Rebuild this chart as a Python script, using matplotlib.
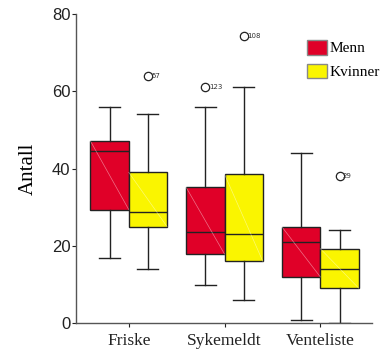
import matplotlib
matplotlib.use("Agg")
import matplotlib.pyplot as plt
from matplotlib.patches import Patch

categories = ["Friske", "Sykemeldt", "Venteliste"]
series = ["Menn", "Kvinner"]
colors = ["#E00028", "#FAF500"]

# box statistics: (whislo, q1, med, q3, whishi)
menn_stats = [(17, 29.4, 44.5, 47.1, 56), (10, 17.9, 23.5, 35.1, 56), (1, 12, 21.1, 24.9, 44)]
kvinner_stats = [(14, 25, 28.9, 39, 54), (6, 16, 23, 38.5, 61), (0, 9.1, 14, 19.3, 24)]
menn_outliers = [[], [61], []]
kvinner_outliers = [[64], [74.3], [38]]
menn_outlier_ids = [[], ["123"], []]
kvinner_outlier_ids = [["57"], ["108"], ["29"]]

fig = plt.figure(figsize=(3.88, 3.5), dpi=100)
ax = fig.add_axes([0.196, 0.076, 0.763, 0.885])

width = 0.4
edge = "#222222"

def make_bxp(stats, outs):
    return [dict(whislo=s[0], q1=s[1], med=s[2], q3=s[3], whishi=s[4], fliers=o, label=c)
            for s, o, c in zip(stats, outs, categories)]

all_stats = [menn_stats, kvinner_stats]
all_outs = [menn_outliers, kvinner_outliers]
all_ids = [menn_outlier_ids, kvinner_outlier_ids]
for k in range(2):
    bx = make_bxp(all_stats[k], all_outs[k])
    pos = [i + 1 + (k - 0.5) * width for i in range(len(categories))]
    ax.bxp(bx, positions=pos, widths=width, patch_artist=True, manage_ticks=False,
           boxprops=dict(facecolor=colors[k], edgecolor=edge, linewidth=1.0),
           medianprops=dict(color=edge, linewidth=1.0),
           whiskerprops=dict(color=edge, linewidth=1.0),
           capprops=dict(color=edge, linewidth=1.0),
           capwidths=0.22,
           flierprops=dict(marker="o", markerfacecolor="none", markeredgecolor=edge,
                           markersize=6, markeredgewidth=0.9))
    for p, s, o, ids in zip(pos, all_stats[k], all_outs[k], all_ids[k]):
        # faint diagonal artifact
        ax.plot([p - width / 2, p + width / 2], [s[3], s[1]], color="white", lw=0.5, alpha=0.45, zorder=3)
        for v, t in zip(o, ids):
            ax.text(p + 0.035, v, t, fontsize=5, va="center", ha="left", color="#333333")

ax.set_xlim(0.45, 3.54)
ax.set_ylim(0, 80)
ax.set_yticks([0, 20, 40, 60, 80])
ax.set_xticks([1, 2, 3])
ax.set_xticklabels(categories, fontfamily="Liberation Serif", fontsize=12.5)
for lab in ax.get_yticklabels():
    lab.set_fontfamily("Liberation Sans")
    lab.set_fontsize(12)
ax.tick_params(axis="y", length=3, width=0.8, pad=1, colors="#222222")
ax.tick_params(axis="x", length=3, width=0.8, pad=4, direction="out", colors="#222222")
for sp in ["top", "right"]:
    ax.spines[sp].set_visible(False)
for sp in ["left", "bottom"]:
    ax.spines[sp].set_color("#555555")
    ax.spines[sp].set_linewidth(1.0)
ax.set_ylabel("Antall", fontfamily="Liberation Serif", fontsize=15, labelpad=10)

handles = [Patch(facecolor=colors[i], edgecolor="#888888", linewidth=1.0) for i in range(2)]
leg = ax.legend(handles, series, loc="upper left", bbox_to_anchor=(0.76, 0.935), frameon=False,
                prop=dict(family="Liberation Serif", size=11), handlelength=1.3, handleheight=1.1,
                handletextpad=0.15, labelspacing=0.55, borderaxespad=0)

fig.savefig("out.png", dpi=100)
